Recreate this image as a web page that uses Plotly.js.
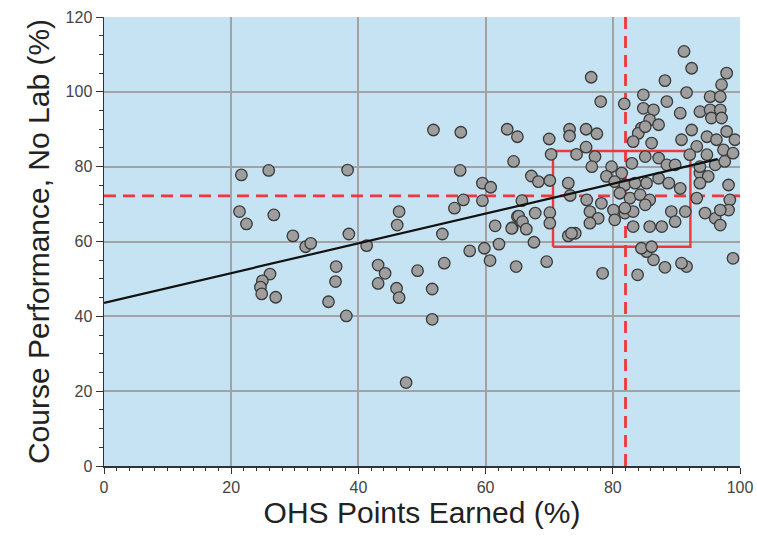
<!DOCTYPE html>
<html><head><meta charset="utf-8">
<script src="https://cdn.plot.ly/plotly-3.0.1.min.js"></script>
<style>body{margin:0;background:#fff}#c{width:757px;height:537px}</style>
</head><body><div id="c"></div>
<script>
// OHS points earned (%) for each student
const ohsX = [21.6,25.9,21.3,22.4,26.7,29.7,31.7,32.5,26.1,24.9,24.6,24.8,27.0,
51.8,56.1,63.4,65.0,64.4,38.3,56.0,59.5,60.8,56.5,59.5,55.1,46.4,46.1,65.0,61.5,64.2,38.5,53.2,41.3,57.5,59.8,62.1,60.7,64.8,53.5,36.5,36.4,43.1,44.2,43.1,49.3,51.6,46.0,46.4,35.3,38.1,51.6,47.5,
76.6,78.1,70.0,73.2,73.2,75.8,77.5,70.3,74.3,75.8,77.2,76.7,79.8,79.0,67.2,68.3,70.1,73.0,73.3,65.7,75.9,78.2,76.4,77.7,76.4,80.3,67.8,70.1,70.1,65.2,65.8,66.4,73.0,74.1,67.6,69.6,78.4,
91.2,92.4,97.9,97.1,88.2,91.6,84.8,81.8,88.5,84.8,86.4,90.6,95.3,96.9,93.7,95.3,96.9,95.5,97.1,85.8,87.2,84.5,84.0,83.2,86.1,90.8,92.4,93.2,94.8,96.3,97.9,99.2,97.4,98.9,92.1,94.8,96.1,93.7,95.0,93.7,98.2,98.4,98.2,93.2,94.5,96.1,96.9,96.9,98.9,91.6,90.8,88.2,86.4,85.3,84.5,86.1,83.9,
81.4,83.0,85.1,87.2,88.5,89.8,80.3,81.9,83.5,85.3,87.2,88.8,90.6,81.1,82.7,84.3,85.8,80.1,81.9,83.2,85.1,80.3,83.2,85.8,87.7,89.2,89.8,91.4,97.6,93.7,81.9,85.1,64.1,73.5];
// Course performance, no lab (%) for each student
const courseY = [77.8,79.0,68.0,64.7,67.1,61.5,58.6,59.5,51.3,49.5,47.8,46.0,45.1,
89.8,89.2,90.0,88.0,81.4,79.1,79.0,75.6,74.5,71.1,70.9,68.9,68.0,64.4,66.7,64.2,63.7,62.0,62.0,58.9,57.5,58.2,59.3,54.9,53.3,54.2,53.3,49.3,53.7,51.5,48.8,52.2,47.3,47.5,45.0,43.9,40.1,39.2,22.3,
103.9,97.4,87.4,90.0,88.2,90.0,88.8,83.3,83.3,85.2,82.7,80.0,80.0,77.4,77.5,76.0,76.3,75.6,72.3,70.9,71.1,70.2,68.0,66.2,64.9,68.0,67.6,67.7,64.9,66.8,65.3,63.3,61.5,62.2,59.8,54.6,51.5,
110.8,106.3,105.0,101.9,103.0,99.8,99.2,96.8,97.4,95.6,95.2,94.3,98.7,98.7,94.7,95.2,95.2,93.0,93.0,92.5,91.2,90.3,88.9,86.7,86.3,87.2,89.8,85.4,88.0,87.2,89.4,87.2,84.5,83.6,83.2,83.2,80.5,78.3,77.4,75.6,75.1,71.1,68.4,71.6,67.6,66.2,64.4,68.4,55.5,53.3,54.2,53.1,55.1,57.3,58.2,58.6,51.1,
78.3,80.9,82.7,82.3,80.5,80.5,76.0,75.1,75.6,75.6,76.9,75.6,74.2,72.9,71.6,72.5,71.1,68.4,67.6,68.0,69.8,65.8,64.0,64.0,64.0,68.0,65.3,68.0,81.4,80.0,68.9,90.7,63.5,62.2];
// reference lines
const cutX = 82;          // vertical dashed line
const cutY = 72.2;        // horizontal dashed line
const boxX = [70.6, 92.2]; // red box x-extent
const boxY = [58.6, 84.2]; // red box y-extent
const fitX = [0, 96.5];   // regression line ends
const fitY = [43.6, 82.0];

const red = '#f0373a';
const traces = [
  {x:[cutX,cutX], y:[0,120], mode:'lines', line:{color:red, width:2.8, dash:'12px,7px'}, hoverinfo:'skip'},
  {x:[0,100], y:[cutY,cutY], mode:'lines', line:{color:red, width:2.8, dash:'12px,7px'}, hoverinfo:'skip'},
  {x:[boxX[0],boxX[1],boxX[1],boxX[0],boxX[0]], y:[boxY[0],boxY[0],boxY[1],boxY[1],boxY[0]], mode:'lines', line:{color:red, width:2.4}, hoverinfo:'skip'},
  {x:ohsX, y:courseY, mode:'markers', marker:{size:11.5, color:'#9e9e9e', line:{color:'#3a3a3a', width:1.3}}},
  {x:fitX, y:fitY, mode:'lines', line:{color:'#111', width:2.2}, hoverinfo:'skip'}
];
const font = 'Liberation Sans, Arial, sans-serif';
const layout = {
  width:757, height:537, showlegend:false,
  margin:{l:104, r:17, t:17, b:71},
  paper_bgcolor:'#fff', plot_bgcolor:'#c5e3f2',
  font:{family:font, color:'#333'},
  xaxis:{range:[0,100], dtick:20, tick0:0, showgrid:true, gridcolor:'#a3a3a3', gridwidth:2,
    zeroline:false, showline:true, linecolor:'#333', linewidth:1.5,
    ticks:'outside', ticklen:6, tickcolor:'#333', tickfont:{size:16, color:'#444'},
    minor:{dtick:2, ticks:'outside', ticklen:3, tickcolor:'#333', showgrid:false},
    title:{text:'OHS Points Earned (%)', font:{size:30, color:'#222'}, standoff:5}},
  xaxis2:{range:[0,100], overlaying:'x', anchor:'y', side:'bottom', dtick:10, tick0:0,
    ticks:'outside', ticklen:6, tickcolor:'#333', showticklabels:false, showgrid:false, zeroline:false, showline:false},
  yaxis:{range:[0,120], dtick:20, tick0:0, showgrid:true, gridcolor:'#a3a3a3', gridwidth:2,
    zeroline:false, showline:true, linecolor:'#333', linewidth:1.5,
    ticks:'outside', ticklen:7, tickcolor:'#333', tickfont:{size:16, color:'#444'},
    minor:{dtick:5, ticks:'outside', ticklen:4, tickcolor:'#333', showgrid:false},
    title:{text:'Course Performance, No Lab (%)', font:{size:30, color:'#222'}, standoff:7}}
};
Plotly.newPlot('c', traces, layout, {staticPlot:true, displayModeBar:false});
</script></body></html>
